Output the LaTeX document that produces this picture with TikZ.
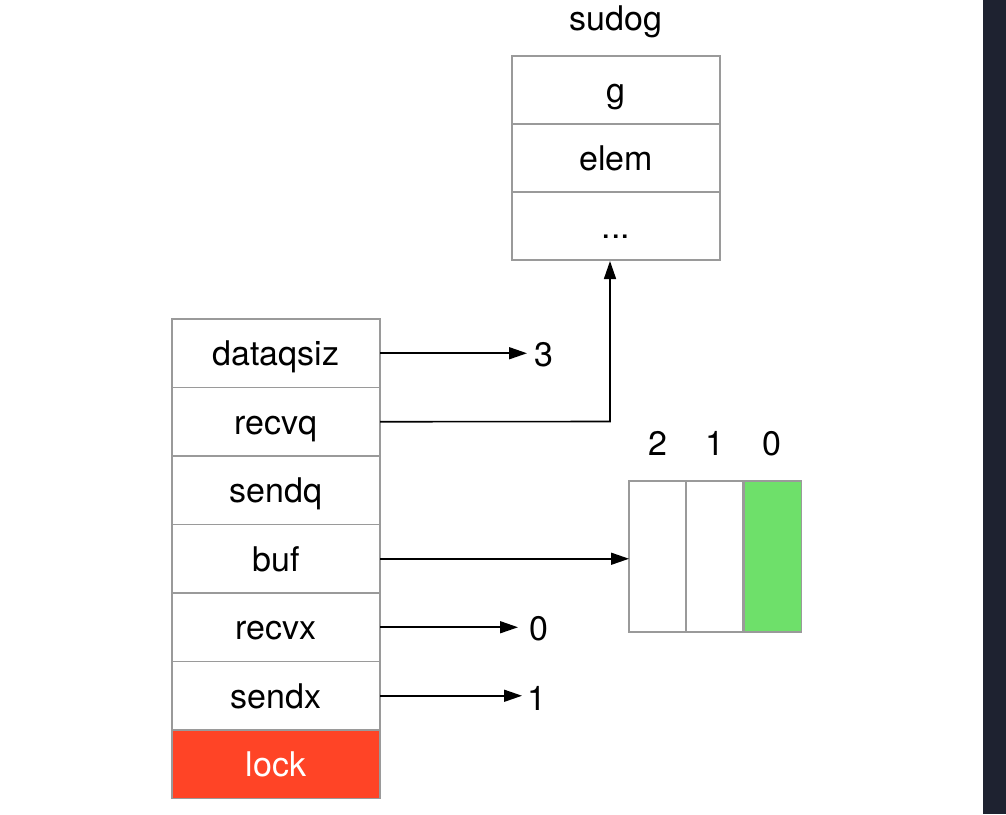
\documentclass[tikz,border=0pt]{standalone}
\usepackage{fontspec}
\setmainfont{TeX Gyre Heros}
\usetikzlibrary{arrows.meta}
\definecolor{bordergrey}{HTML}{9A9A9A}
\definecolor{lockred}{HTML}{FF4426}
\definecolor{slotgreen}{HTML}{6EE06A}
\definecolor{darkstrip}{HTML}{1E2230}
\begin{document}
\begin{tikzpicture}[x=1pt,y=-1pt,
  cell/.style={draw=bordergrey,line width=1.6pt,minimum width=208pt,minimum height=68.5pt,inner sep=0pt,outer sep=0pt,anchor=north west,font=\fontsize{34}{40}\selectfont,text height=24.5pt,text depth=0pt},
  slot/.style={draw=bordergrey,line width=1.6pt,minimum width=57pt,minimum height=151pt,inner sep=0pt,outer sep=0pt,anchor=north west},
  lbl/.style={font=\fontsize{34}{40}\selectfont,inner sep=0pt},
  conn/.style={line width=1.6pt,-{Triangle[length=18pt,width=12pt]}}]
\useasboundingbox (0,0) rectangle (1006,814);
\fill[white] (0,0) rectangle (983,814);
\fill[darkstrip] (983,0) rectangle (1006,814);
% hchan
\node[cell] (dataqsiz) at (172,319) {dataqsiz};
\node[cell] (recvq) at (172,387.5) {recvq};
\node[cell] (sendq) at (172,456) {sendq};
\node[cell] (buf) at (172,524.5) {buf};
\node[cell] (recvx) at (172,593) {recvx};
\node[cell] (sendx) at (172,661.5) {sendx};
\node[cell,fill=lockred,text=white] (lock) at (172,730) {lock};
% sudog
\node[lbl,anchor=base] (sudoglbl) at (616,30) {sudog};
\node[cell,minimum height=68pt] (g) at (512,56) {g};
\node[cell,minimum height=68pt] (elem) at (512,124) {elem};
\node[cell,minimum height=68pt] (dots) at (512,192) {...};
% buffer
\node[slot] (s2) at (629,481) {};
\node[slot] (s1) at (686,481) {};
\node[slot,fill=slotgreen] (s0) at (744.5,481) {};
\node[lbl,anchor=base] (l2) at (658,455) {2};
\node[lbl,anchor=base] (l1) at (715,455) {1};
\node[lbl,anchor=base] (l0) at (772,455) {0};
% values
\node[lbl,anchor=base west] (v3) at (534,366) {3};
\node[lbl,anchor=base west] (v0) at (529,640) {0};
\node[lbl,anchor=base west] (v1) at (527,710) {1};
\coordinate (bend) at (610,421.5);
\coordinate (sudogin) at (610,261);
% connectors
\draw[conn,shorten >=7pt] (dataqsiz.east) -- (dataqsiz.east -| v3.west);
\draw[conn] (recvq.east) -- (bend) -- (sudogin);
\draw[conn] (buf.east) -- (buf.east -| s2.west);
\draw[conn,shorten >=11pt] (recvx.east) -- (recvx.east -| v0.west);
\draw[conn,shorten >=5pt] (sendx.east) -- (sendx.east -| v1.west);
\end{tikzpicture}
\end{document}
